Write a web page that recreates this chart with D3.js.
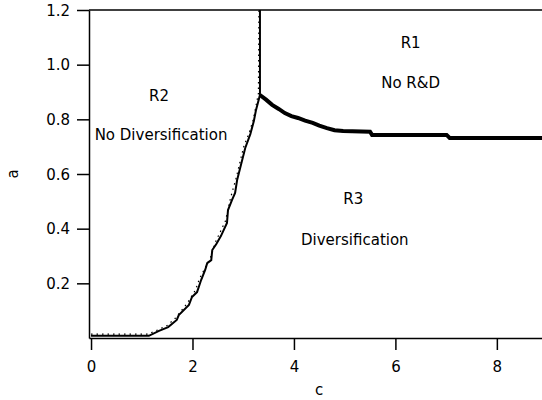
<!DOCTYPE html>
<html>
<head>
<meta charset="utf-8">
<script src="https://cdn.jsdelivr.net/npm/d3@7"></script>
<style>
  body { margin: 0; background: #fff; }
  text { font-family: "DejaVu Sans", sans-serif; fill: #000; }
</style>
</head>
<body>
<div id="chart"></div>
<script>
// Boundary R2 / R3 (solid), c and a
var boundaryC = [0, 1.14, 1.34, 1.52, 1.69, 1.73, 1.93, 1.99, 2.09, 2.17, 2.25, 2.29, 2.37, 2.39,
                 2.47, 2.56, 2.68, 2.70, 2.78, 2.84, 2.88, 2.94, 3.04, 3.14, 3.21, 3.25, 3.33, 3.33];
var boundaryA = [0.008, 0.008, 0.026, 0.040, 0.066, 0.084, 0.121, 0.150, 0.168, 0.212, 0.249, 0.274, 0.285, 0.322,
                 0.344, 0.373, 0.421, 0.468, 0.505, 0.531, 0.578, 0.622, 0.695, 0.746, 0.794, 0.832, 0.889, 1.2];

// Dotted companion line
var dottedC = [0, 1.12, 1.32, 1.50, 1.66, 1.90, 2.06, 2.14, 2.35, 2.45, 2.65, 2.75, 2.86, 3.01, 3.12, 3.20, 3.30, 3.31];
var dottedA = [0.014, 0.014, 0.030, 0.046, 0.072, 0.128, 0.176, 0.218, 0.292, 0.350, 0.428, 0.512, 0.585, 0.700, 0.752, 0.800, 0.895, 1.2];

// Boundary R1 / R3 (thick)
var r1C = [3.33, 3.45, 3.57, 3.70, 3.82, 3.95, 4.08, 4.22, 4.37, 4.50, 4.65, 4.80, 4.97, 5.50, 5.54, 7.01, 7.07, 9.0];
var r1A = [0.889, 0.872, 0.853, 0.838, 0.823, 0.812, 0.805, 0.795, 0.787, 0.777, 0.768, 0.760, 0.757, 0.755, 0.743, 0.743, 0.732, 0.732];

var xTicks = [0, 2, 4, 6, 8];
var yTicks = [0.2, 0.4, 0.6, 0.8, 1.0, 1.2];

var regionLabels = [
    {c: 6.3, a: 1.08, text: "R1"},
    {c: 6.3, a: 0.935, text: "No R&D"},
    {c: 1.34, a: 0.885, text: "R2"},
    {c: 1.38, a: 0.745, text: "No Diversification"},
    {c: 5.17, a: 0.51, text: "R3"},
    {c: 5.2, a: 0.36, text: "Diversification"}
];

var width = 542, height = 400;
var plotLeft = 89, plotRight = 542, plotTop = 10, plotBottom = 338;

var svg = d3.select("#chart").append("svg")
    .attr("width", width)
    .attr("height", height);

var x = d3.scaleLinear().domain([-0.04, 8.89]).range([plotLeft, plotRight]);
var y = d3.scaleLinear().domain([0, 1.2]).range([plotBottom, plotTop]);

// Axes
var xAxis = d3.axisBottom(x).tickValues(xTicks).tickSize(12).tickSizeOuter(0)
    .tickFormat(d3.format("d"));
var yAxis = d3.axisLeft(y).tickValues(yTicks).tickSize(12).tickSizeOuter(0)
    .tickFormat(d3.format(".1f"));

var gx = svg.append("g")
    .attr("transform", "translate(0," + plotBottom + ")")
    .call(xAxis);
var gy = svg.append("g")
    .attr("transform", "translate(" + plotLeft + ",0)")
    .call(yAxis);

[gx, gy].forEach(function(g) {
    g.select(".domain").attr("stroke", "#000").attr("stroke-width", 1.5);
    g.selectAll(".tick line").attr("stroke", "#000").attr("stroke-width", 1.5);
    g.selectAll(".tick text").attr("font-size", 15).attr("font-family", "DejaVu Sans").attr("fill", "#000");
});
gx.selectAll(".tick text").attr("dy", null).attr("y", 34);
gy.selectAll(".tick text").attr("x", -19).attr("dy", "0.35em");

// Top frame line
svg.append("line")
    .attr("x1", plotLeft).attr("x2", plotRight)
    .attr("y1", plotTop).attr("y2", plotTop)
    .attr("stroke", "#000").attr("stroke-width", 1.5);

// Axis titles
svg.append("text")
    .attr("x", 319).attr("y", 395)
    .attr("text-anchor", "middle")
    .attr("font-size", 15)
    .text("c");
svg.append("text")
    .attr("transform", "translate(18,174) rotate(-90)")
    .attr("text-anchor", "middle")
    .attr("font-size", 15)
    .text("a");

var line = d3.line()
    .x(function(d) { return x(d[0]); })
    .y(function(d) { return y(d[1]); });

function zip(cs, as) {
    return cs.map(function(c, i) { return [c, as[i]]; });
}

svg.append("path")
    .datum(zip(dottedC, dottedA))
    .attr("d", line)
    .attr("fill", "none")
    .attr("stroke", "#000")
    .attr("stroke-width", 1.2)
    .attr("stroke-dasharray", "1.5,4");

svg.append("path")
    .datum(zip(boundaryC, boundaryA))
    .attr("d", line)
    .attr("fill", "none")
    .attr("stroke", "#000")
    .attr("stroke-width", 2);

svg.append("path")
    .datum(zip(r1C, r1A))
    .attr("d", line)
    .attr("fill", "none")
    .attr("stroke", "#000")
    .attr("stroke-width", 4);

// Region labels
svg.selectAll("text.region")
    .data(regionLabels)
    .enter().append("text")
    .attr("class", "region")
    .attr("x", function(d) { return x(d.c); })
    .attr("y", function(d) { return y(d.a); })
    .attr("text-anchor", "middle")
    .attr("dy", "0.35em")
    .attr("font-size", 15)
    .text(function(d) { return d.text; });
</script>
</body>
</html>
